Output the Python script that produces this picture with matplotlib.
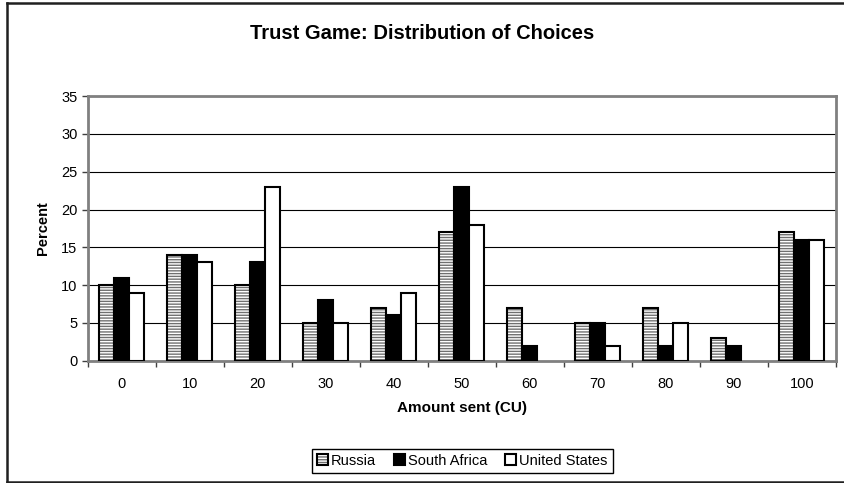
import matplotlib.pyplot as plt
import numpy as np
from matplotlib.patches import Patch
from matplotlib.lines import Line2D

plt.rcParams['font.family'] = ['Liberation Sans', 'DejaVu Sans']

amounts = ['0', '10', '20', '30', '40', '50', '60', '70', '80', '90', '100']
russia = [10, 14, 10, 5, 7, 17, 7, 5, 7, 3, 17]
south_africa = [11, 14, 13, 8, 6, 23, 2, 5, 2, 2, 16]
united_states = [9, 13, 23, 5, 9, 18, 0, 2, 5, 0, 16]

fig = plt.figure(figsize=(8.45, 4.83), dpi=100)
ax = fig.add_axes([0.104, 0.253, 0.885, 0.548])

x = np.arange(len(amounts))
w = 0.22


def outline(values):
    # empty bars get no outline
    return [1.5 if v > 0 else 0 for v in values]


# Russia: grey horizontal stripes under a black outline
ax.bar(x - w, russia, w, color='white', edgecolor='#707070', hatch='------', linewidth=0, zorder=3)
ax.bar(x - w, russia, w, fill=False, edgecolor='black', linewidth=outline(russia), zorder=4)
ax.bar(x, south_africa, w, color='black', edgecolor='black', linewidth=outline(south_africa), zorder=3)
ax.bar(x + w, united_states, w, color='white', edgecolor='black', linewidth=outline(united_states), zorder=3)

ax.set_xlim(-0.5, len(amounts) - 0.5)
ax.set_ylim(0, 35)
ax.set_yticks(range(0, 36, 5))
ax.yaxis.grid(True, color='black', linewidth=0.8)
ax.set_axisbelow(True)

ax.set_xticks(x)
ax.set_xticklabels(amounts)
ax.set_xticks(np.arange(-0.5, len(amounts)), minor=True)
ax.tick_params(axis='x', which='major', length=0, pad=12, labelsize=10.5)
ax.tick_params(axis='x', which='minor', length=4, width=1, color='#404040')
ax.tick_params(axis='y', length=4, width=1, color='#404040', labelsize=10.5)

for s in ax.spines.values():
    s.set_color('#808080')
    s.set_linewidth(2)

ax.set_xlabel('Amount sent (CU)', fontsize=11, fontweight='bold', labelpad=7)
ax.set_ylabel('Percent', fontsize=10.5, fontweight='bold', labelpad=8)
fig.text(0.5, 0.93, 'Trust Game: Distribution of Choices', ha='center', va='center',
         fontsize=14.5, fontweight='bold')

handles = [
    (Patch(facecolor='white', edgecolor='#707070', hatch='------', linewidth=0),
     Patch(fill=False, edgecolor='black', linewidth=1.5)),
    Patch(facecolor='black', edgecolor='black', linewidth=1.5),
    Patch(facecolor='white', edgecolor='black', linewidth=1.5),
]
leg = fig.legend(handles, ['Russia', 'South Africa', 'United States'],
                 loc='center', bbox_to_anchor=(0.547, 0.046), ncol=3,
                 fontsize=10.5, handlelength=0.75, handleheight=0.75,
                 handletextpad=0.2, columnspacing=1.25, borderpad=0.35,
                 fancybox=False, framealpha=1, edgecolor='black')
leg.get_frame().set_linewidth(1)

# outer chart border
for xs, ys in [([0.0077, 0.0077], [0.002, 0.993]),
               ([0.0077, 1.0], [0.993, 0.993]),
               ([0.0077, 1.0], [0.003, 0.003])]:
    fig.add_artist(Line2D(xs, ys, color='#202020', linewidth=1.8, transform=fig.transFigure))

fig.savefig('out.png', dpi=100)
